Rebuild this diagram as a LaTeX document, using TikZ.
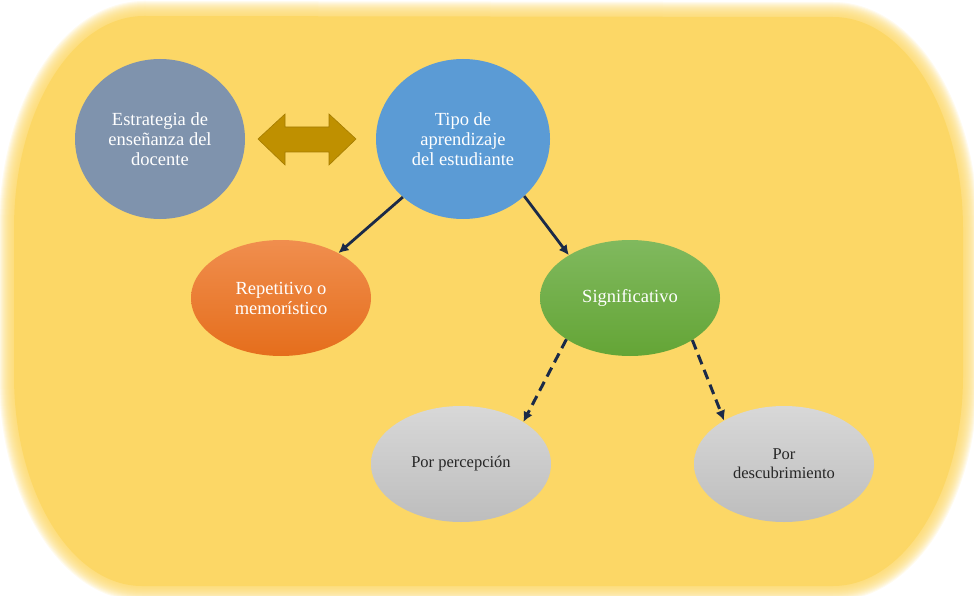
\documentclass[tikz,border=0pt]{standalone}
\usepackage{fontspec}
\setmainfont{Liberation Serif}
\usetikzlibrary{shapes.geometric,arrows.meta}
\definecolor{bgyellow}{HTML}{FCD766}
\definecolor{slate}{HTML}{7F93AD}
\definecolor{skyblue}{HTML}{5B9BD5}
\definecolor{orangetop}{HTML}{F08E4E}
\definecolor{orangebot}{HTML}{E56E1C}
\definecolor{greentop}{HTML}{80B95E}
\definecolor{greenbot}{HTML}{64A536}
\definecolor{graytop}{HTML}{D8D8D8}
\definecolor{graybot}{HTML}{BDBDBD}
\definecolor{navy}{HTML}{1B2A48}
\definecolor{gold}{HTML}{BF9000}
\definecolor{golddark}{HTML}{A57C00}
\tikzset{
  bubble/.style={ellipse, inner sep=0pt, align=center, font=\fontsize{18.5}{20}\selectfont, text=white},
  greybubble/.style={ellipse, inner sep=0pt, align=center, top color=graytop, bottom color=graybot, font=\fontsize{16.5}{19}\selectfont, text=black!85},
  solidarrow/.style={draw=navy, line width=2.8pt, -{Latex[length=10pt,width=10pt]}},
  dasharrow/.style={draw=navy, line width=3pt, dash pattern=on 10pt off 6pt, -{Latex[length=10pt,width=10pt]}}
}
\begin{document}
\begin{tikzpicture}[x=1pt,y=-1pt]
\useasboundingbox (0,0) rectangle (974,596);
% background with soft edge
\def\bgpath{(14,228) arc (180:270:130 and 212) -- (833,17) arc (270:360:130 and 212) -- (963,376) arc (0:90:130 and 210) -- (142,586) arc (90:180:128 and 210) -- cycle}
\foreach \w in {30,28,...,2}{
  \draw[bgyellow, line width=\w pt, opacity=0.11] \bgpath;
}
\fill[bgyellow] \bgpath;
% nodes
\node[bubble, fill=slate, minimum width=170pt, minimum height=160pt] (estr) at (160,139) {Estrategia de\\enseñanza del\\docente};
\node[bubble, fill=skyblue, minimum width=174pt, minimum height=160pt] (tipo) at (463,139) {Tipo de\\aprendizaje\\del estudiante};
\node[bubble, top color=orangetop, bottom color=orangebot, minimum width=180pt, minimum height=116pt] (rep) at (281,298) {Repetitivo o\\memorístico};
\node[bubble, top color=greentop, bottom color=greenbot, minimum width=180pt, minimum height=116pt] (sig) at (630,298) {Significativo};
\node[greybubble, minimum width=180pt, minimum height=116pt] (perc) at (461,464) {Por percepción};
\node[greybubble, minimum width=180pt, minimum height=116pt] (desc) at (784,464) {Por\\descubrimiento};
% double arrow between estrategia and tipo
\coordinate (dl) at (258,139);
\coordinate (dr) at (356,139);
\draw[fill=gold, draw=golddark, line width=0.6pt] (dl) -- (285,114) -- (285,127) -- (329,127) -- (329,114) -- (dr) -- (329,165) -- (329,152) -- (285,152) -- (285,165) -- cycle;
% connectors
\draw[solidarrow] (tipo.224) -- (rep.38);
\draw[solidarrow] (tipo.317) -- (sig.145);
\draw[dasharrow] (sig.213) -- (perc.34);
\draw[dasharrow] (sig.326) -- (desc.144);
\end{tikzpicture}
\end{document}
